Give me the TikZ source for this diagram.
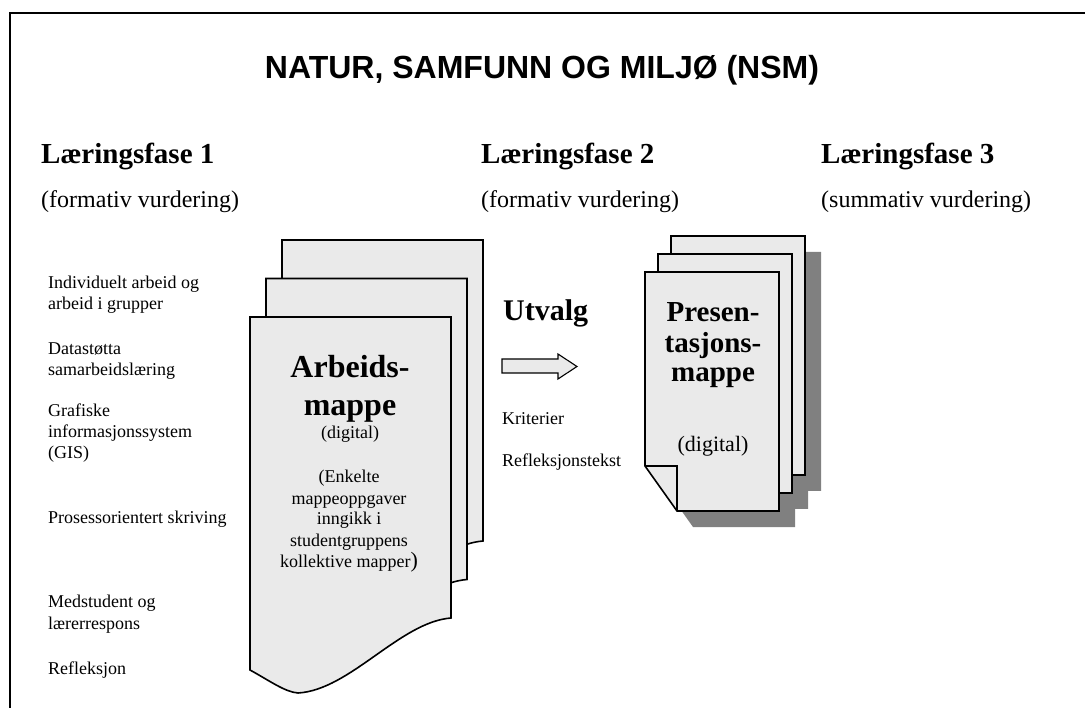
\documentclass[tikz,border=0pt]{standalone}
\usepackage{fontspec}
\setmainfont{Liberation Serif}
\newfontfamily\titlefont{Liberation Sans}
\definecolor{sheetgray}{RGB}{234,234,234}
\definecolor{shadowgray}{RGB}{128,128,128}
\begin{document}
\begin{tikzpicture}[x=1pt,y=-1pt,
  sheet/.style={fill=sheetgray, draw=black, line width=1.6pt, line join=miter},
  shade/.style={fill=shadowgray, draw=none},
  frameline/.style={draw=black, line width=1.4pt},
  item/.style={anchor=base west, inner sep=0pt, font=\fontsize{18}{21}\selectfont},
  phase/.style={anchor=base west, inner sep=0pt, font=\fontsize{29}{34}\selectfont\bfseries},
  phasesub/.style={anchor=base west, inner sep=0pt, font=\fontsize{24}{28}\selectfont},
  bigtxt/.style={anchor=base, inner sep=0pt, font=\fontsize{32}{38}\selectfont\bfseries},
  presbig/.style={anchor=base, inner sep=0pt, font=\fontsize{29}{33}\selectfont\bfseries},
  smalltxt/.style={anchor=base, inner sep=0pt, font=\fontsize{18}{21}\selectfont},
  blockarrow/.style={fill=sheetgray, draw=black, line width=1.1pt, line join=miter}
]
\useasboundingbox (0,0) rectangle (1085,708);

% frame
\draw[frameline] (1085,13) -- (10,13) -- (10,708);

% title
\node[anchor=base, inner sep=0pt, font=\titlefont\fontsize{32}{38}\selectfont\bfseries] (title) at (542,79) {NATUR, SAMFUNN OG MILJØ (NSM)};

% phase headings
\node[phase] (p1) at (41,164) {Læringsfase 1};
\node[phasesub] (p1s) at (41,208) {(formativ vurdering)};
\node[phase] (p2) at (481,164) {Læringsfase 2};
\node[phasesub] (p2s) at (481,208) {(formativ vurdering)};
\node[phase] (p3) at (821,164) {Læringsfase 3};
\node[phasesub] (p3s) at (821,208) {(summativ vurdering)};

% left items
\node[item] (i1a) at (48,289) {Individuelt arbeid og};
\node[item] (i1b) at (48,310) {arbeid i grupper};
\node[item] (i2a) at (48,355) {Datastøtta};
\node[item] (i2b) at (48,376) {samarbeidslæring};
\node[item] (i3a) at (48,417) {Grafiske};
\node[item] (i3b) at (48,438) {informasjonssystem};
\node[item] (i3c) at (48,459) {(GIS)};
\node[item] (i4) at (48,524) {Prosessorientert skriving};
\node[item] (i5a) at (48,607) {Medstudent og};
\node[item] (i5b) at (48,629) {lærerrespons};
\node[item] (i6) at (48,674) {Refleksjon};

% Arbeidsmappe stack
\foreach \dx/\dy in {32/-77, 16/-38.5, 0/0}{
  \begin{scope}[shift={(\dx,\dy)}]
    \path[sheet] (250,317) -- (451,317) -- (451,618)
      .. controls (400,622) and (350,690) .. (298,693)
      .. controls (285,692) and (270,681) .. (250,670) -- cycle;
  \end{scope}
}
\node[bigtxt] (a1) at (350,378) {Arbeids-};
\node[bigtxt] (a2) at (350,416) {mappe};
\node[smalltxt] (a3) at (350,439) {(digital)};
\node[smalltxt] (a4) at (349,483) {(Enkelte};
\node[smalltxt] (a5) at (349,504) {mappeoppgaver};
\node[smalltxt] (a6) at (349,525) {inngikk i};
\node[smalltxt] (a7) at (349,546) {studentgruppens};
\node[smalltxt] (a8) at (349,567) {kollektive mapper{\fontsize{22}{22}\selectfont)}};

% Utvalg arrow and texts
\node[anchor=base west, inner sep=0pt, font=\fontsize{30}{34}\selectfont\bfseries] (utv) at (503,321) {Utvalg};
\path[blockarrow] (502,359) -- (558,359) -- (558,354) -- (577,366.5) -- (558,379) -- (558,373) -- (502,373) -- cycle;
\node[item] (k1) at (502,425) {Kriterier};
\node[item] (k2) at (502,467) {Refleksjonstekst};

% Presentasjonsmappe shadow
\foreach \dx/\dy in {26/-36, 13/-18, 0/0}{
  \begin{scope}[shift={(\dx+16,\dy+16)}]
    \path[shade] (645,272) -- (779,272) -- (779,511) -- (677,511) -- (645,466) -- cycle;
  \end{scope}
}
% Presentasjonsmappe stack
\foreach \dx/\dy in {26/-36, 13/-18, 0/0}{
  \begin{scope}[shift={(\dx,\dy)}]
    \path[sheet] (645,272) -- (779,272) -- (779,511) -- (677,511) -- (645,466) -- cycle;
  \end{scope}
}
\draw[line width=1.6pt, line join=miter] (645,466) -- (677,466) -- (677,511);
\node[presbig] (b1) at (713,322) {Presen-};
\node[presbig] (b2) at (713,353) {tasjons-};
\node[presbig] (b3) at (713,382) {mappe};
\node[anchor=base, inner sep=0pt, font=\fontsize{22}{26}\selectfont] (b4) at (713,452) {(digital)};
\end{tikzpicture}
\end{document}
